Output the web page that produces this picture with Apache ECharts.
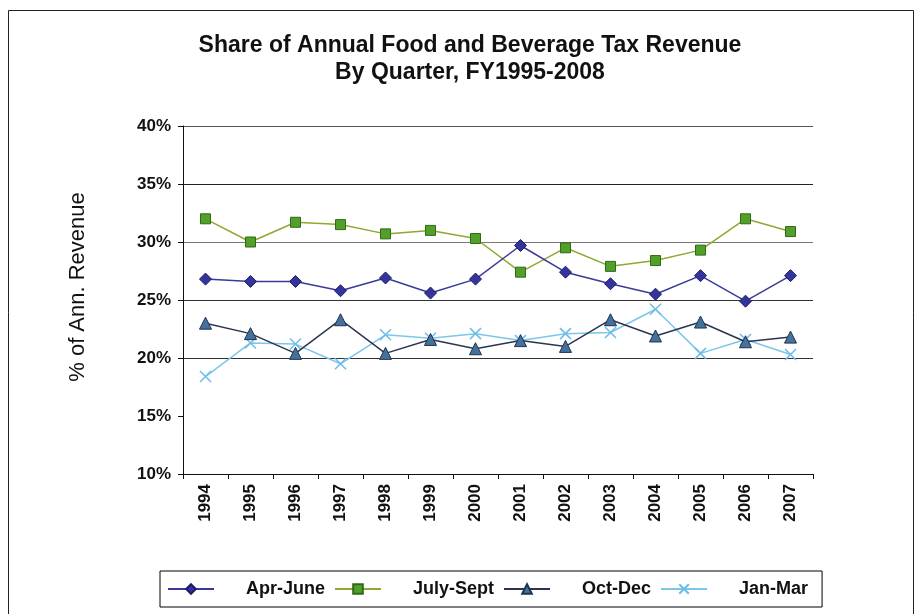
<!DOCTYPE html>
<html>
<head>
<meta charset="utf-8">
<style>
  html, body { margin: 0; padding: 0; background: #fff; }
  #chart { width: 918px; height: 614px; }
</style>
<script src="https://cdn.jsdelivr.net/npm/echarts@6/dist/echarts.min.js"></script>
</head>
<body>
<div id="chart"></div>
<script>
// Fiscal year labels along the x axis
var years = ['1994', '1995', '1996', '1997', '1998', '1999', '2000',
             '2001', '2002', '2003', '2004', '2005', '2006', '2007'];

// Quarterly share of annual food & beverage tax revenue (%)
var aprJune  = [26.8, 26.6, 26.6, 25.8, 26.9, 25.6, 26.8, 29.7, 27.4, 26.4, 25.5, 27.1, 24.9, 27.1];
var julySept = [32.0, 30.0, 31.7, 31.5, 30.7, 31.0, 30.3, 27.4, 29.5, 27.9, 28.4, 29.3, 32.0, 30.9];
var octDec   = [23.0, 22.1, 20.4, 23.3, 20.4, 21.6, 20.8, 21.5, 21.0, 23.3, 21.9, 23.1, 21.4, 21.8];
var janMar   = [18.4, 21.3, 21.2, 19.5, 22.0, 21.7, 22.1, 21.5, 22.1, 22.2, 24.2, 20.4, 21.6, 20.3];

// Y axis range and step (percent)
var yMin = 10, yMax = 40, yStep = 5;

var FONT = '"Liberation Sans", Arial, sans-serif';
var crossPath = 'path://M0,0L10,10M10,0L0,10';

var chart = echarts.init(document.getElementById('chart'), null, { renderer: 'canvas' });

chart.setOption({
  backgroundColor: '#ffffff',
  animation: false,
  title: {
    text: 'Share of Annual Food and Beverage Tax Revenue\nBy Quarter, FY1995-2008',
    left: 470,
    textAlign: 'center',
    top: 32,
    padding: 0,
    textStyle: {
      fontFamily: FONT, fontSize: 23, fontWeight: 'bold', color: '#111',
      lineHeight: 27
    }
  },
  grid: { left: 183, right: 105, top: 126, bottom: 140, containLabel: false },
  legend: {
    left: 160, top: 571,
    itemWidth: 46, itemHeight: 12, itemGap: 9,
    padding: [9, 14, 9, 7],
    borderColor: '#000', borderWidth: 1,
    textStyle: { fontFamily: FONT, fontSize: 18, fontWeight: 'bold', color: '#111', padding: [0, 0, 0, 27] },
    data: ['Apr-June', 'July-Sept', 'Oct-Dec', 'Jan-Mar']
  },
  xAxis: {
    type: 'category',
    data: years,
    boundaryGap: true,
    axisLine: { lineStyle: { color: '#111', width: 1 } },
    axisTick: { show: true, length: 5, interval: 0, lineStyle: { color: '#111' } },
    axisLabel: {
      rotate: 90, interval: 0, margin: 10,
      fontFamily: FONT, fontSize: 17, fontWeight: 'bold', color: '#111'
    },
    splitLine: { show: false }
  },
  yAxis: {
    type: 'value',
    min: yMin, max: yMax, interval: yStep,
    axisLine: { show: true, lineStyle: { color: '#111', width: 1 } },
    axisTick: { show: true, length: 5, lineStyle: { color: '#111' } },
    axisLabel: {
      formatter: '{value}%', margin: 12,
      fontFamily: FONT, fontSize: 17, fontWeight: 'bold', color: '#111'
    },
    splitLine: {
      show: true,
      lineStyle: { color: ['#444', 'rgba(0,0,0,0)', '#333', '#333', '#777', '#222', '#555'], width: 1 }
    }
  },
  graphic: [
    {
      type: 'rect',
      shape: { x: 8.5, y: 10.5, width: 905, height: 620 },
      style: { fill: 'none', stroke: '#222', lineWidth: 1 },
      silent: true
    },
    {
      type: 'text',
      x: 78, y: 287,
      rotation: Math.PI / 2,
      style: {
        text: '% of Ann. Revenue',
        x: 0, y: 0,
        align: 'center', verticalAlign: 'middle',
        font: '22px ' + FONT,
        fill: '#111'
      }
    }
  ],
  series: [
    {
      name: 'Apr-June', type: 'line', data: aprJune,
      symbol: 'diamond', symbolSize: 12,
      lineStyle: { color: '#3a3a9a', width: 1.5 },
      itemStyle: { color: '#34349c', borderColor: '#1c1c66', borderWidth: 1 },
      z: 4
    },
    {
      name: 'July-Sept', type: 'line', data: julySept,
      symbol: 'rect', symbolSize: 10,
      lineStyle: { color: '#8fa830', width: 1.5 },
      itemStyle: { color: '#52a02a', borderColor: '#2f6a16', borderWidth: 1 },
      z: 3
    },
    {
      name: 'Oct-Dec', type: 'line', data: octDec,
      symbol: 'triangle', symbolSize: 12,
      lineStyle: { color: '#2c3550', width: 1.5 },
      itemStyle: { color: '#45729a', borderColor: '#1f3350', borderWidth: 1 },
      z: 2
    },
    {
      name: 'Jan-Mar', type: 'line', data: janMar,
      symbol: crossPath, symbolSize: 11,
      lineStyle: { color: '#7cc6ec', width: 1.5 },
      itemStyle: { color: '#6cbde8', borderColor: '#6cbde8', borderWidth: 1.5 },
      z: 1
    }
  ]
});
</script>
</body>
</html>
